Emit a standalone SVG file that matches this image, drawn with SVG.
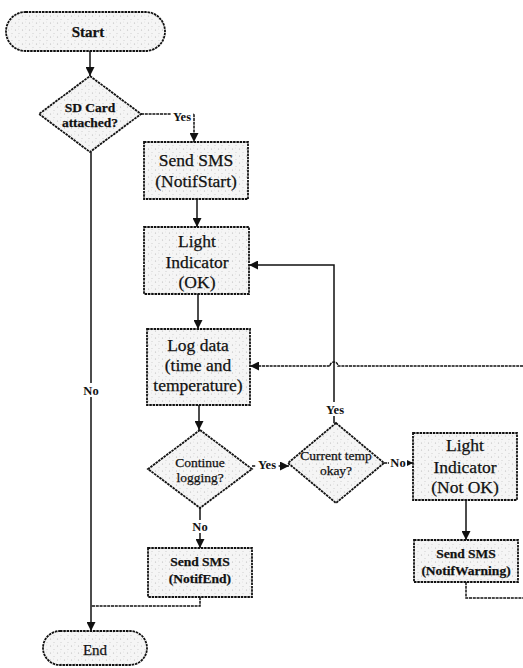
<svg xmlns="http://www.w3.org/2000/svg" width="523" height="668" viewBox="0 0 523 668">
<style>
.shape{fill:url(#speckle);stroke:#111;stroke-width:1.8;stroke-dasharray:2.5 0.8}
.t{font-family:"Liberation Serif","Times New Roman",serif;fill:#111;stroke:#111;stroke-width:0.25;text-anchor:middle}
.big{font-size:17.5px}
.mid{font-size:15px}
.sm{font-size:13.5px}
.lbl{font-family:"Liberation Serif","Times New Roman",serif;fill:#111;font-size:12.5px;font-weight:bold;text-anchor:middle}
.c{fill:none;stroke:#111;stroke-width:1.5}
.d{stroke-dasharray:3 0.8}
.bg{fill:#fff}
</style>
<defs>
<pattern id="speckle" width="7" height="7" patternUnits="userSpaceOnUse">
<rect width="7" height="7" fill="#f5f5f5"/>
<circle cx="1.5" cy="2" r="0.6" fill="#b5b5b5"/>
<circle cx="5" cy="5.5" r="0.5" fill="#c4c4c4"/>
<circle cx="4.5" cy="1" r="0.4" fill="#d0d0d0"/>
</pattern>
<marker id="ah" viewBox="0 0 10 10" refX="10" refY="5" markerWidth="9" markerHeight="9" markerUnits="userSpaceOnUse" orient="auto">
<path d="M0,0 L10,5 L0,10 z" fill="#111"/>
</marker>
</defs>

<g id="connectors">
<path class="c" d="M90,51 V76" marker-end="url(#ah)"/>
<path class="c d" d="M141,114 H194 V142" marker-end="url(#ah)"/>
<path class="c" d="M197,199 V227" marker-end="url(#ah)"/>
<path class="c" d="M198,294 V329" marker-end="url(#ah)"/>
<path class="c" d="M199,405 V430" marker-end="url(#ah)"/>
<path class="c" d="M200,508 V548" marker-end="url(#ah)"/>
<path class="c d" d="M252,466 H289" marker-end="url(#ah)"/>
<path class="c" d="M334,423 V265 H249" marker-end="url(#ah)"/>
<path class="c d" d="M523,366 H338 A4,4 0 0 0 330,366 H250" marker-end="url(#ah)"/>
<path class="c d" d="M384,463 H413" marker-end="url(#ah)"/>
<path class="c" d="M466,500 V540" marker-end="url(#ah)"/>
<path class="c d" d="M466,582 V598 H523"/>
<path class="c" d="M91,152 V631" marker-end="url(#ah)"/>
<path class="c d" d="M200,597 V606 H91"/>
<rect class="bg" x="171" y="109" width="22" height="14"/>
<text class="lbl" x="182" y="121">Yes</text>
<rect class="bg" x="81" y="383" width="20" height="14"/>
<text class="lbl" x="91" y="395">No</text>
<rect class="bg" x="324" y="402" width="22" height="14"/>
<text class="lbl" x="335" y="414">Yes</text>
<rect class="bg" x="256" y="458" width="22" height="13"/>
<text class="lbl" x="267" y="469">Yes</text>
<rect class="bg" x="389" y="456" width="18" height="13"/>
<text class="lbl" x="398" y="467">No</text>
<rect class="bg" x="190" y="520" width="20" height="13"/>
<text class="lbl" x="200" y="531">No</text>
</g>

<g id="start">
<rect class="shape" x="6" y="12" width="159" height="39" rx="19.5"/>
<text class="t mid" x="88" y="37" font-weight="bold">Start</text>
</g>

<g id="sd-card">
<polygon class="shape" points="90,76 141,114 90,152 39,114"/>
<text class="t sm" x="90" y="112" font-weight="bold">SD Card</text>
<text class="t sm" x="90" y="127" font-weight="bold">attached?</text>
</g>

<g id="send-notifstart">
<rect class="shape" x="144" y="142" width="104" height="57"/>
<text class="t big" x="196" y="166">Send SMS</text>
<text class="t big" x="196" y="187">(NotifStart)</text>
</g>

<g id="light-ok">
<rect class="shape" x="144" y="227" width="105" height="67"/>
<text class="t big" x="197" y="247">Light</text>
<text class="t big" x="197" y="268">Indicator</text>
<text class="t big" x="197" y="288">(OK)</text>
</g>

<g id="log-data">
<rect class="shape" x="147" y="329" width="103" height="76"/>
<text class="t big" x="198" y="351">Log data</text>
<text class="t big" x="198" y="371">(time and</text>
<text class="t big" x="198" y="391">temperature)</text>
</g>

<g id="continue-logging">
<polygon class="shape" points="200,430 252,469 200,508 148,469"/>
<text class="t sm" x="200" y="467">Continue</text>
<text class="t sm" x="200" y="482">logging?</text>
</g>

<g id="current-temp">
<polygon class="shape" points="336,423 384,463 336,503 288,463"/>
<text class="t sm" x="336" y="460">Current temp</text>
<text class="t sm" x="336" y="475">okay?</text>
</g>

<g id="light-not-ok">
<rect class="shape" x="413" y="433" width="104" height="67"/>
<text class="t big" x="465" y="451">Light</text>
<text class="t big" x="465" y="473">Indicator</text>
<text class="t big" x="465" y="493">(Not OK)</text>
</g>

<g id="send-notifwarning">
<rect class="shape" x="414" y="540" width="104" height="42"/>
<text class="t sm" x="466" y="558" font-weight="bold">Send SMS</text>
<text class="t sm" x="466" y="575" font-weight="bold">(NotifWarning)</text>
</g>

<g id="send-notifend">
<rect class="shape" x="148" y="548" width="104" height="49"/>
<text class="t sm" x="200" y="566" font-weight="bold">Send SMS</text>
<text class="t sm" x="200" y="583" font-weight="bold">(NotifEnd)</text>
</g>

<g id="end">
<rect class="shape" x="43" y="631" width="104" height="34" rx="17"/>
<text class="t mid" x="95" y="655">End</text>
</g>
</svg>
